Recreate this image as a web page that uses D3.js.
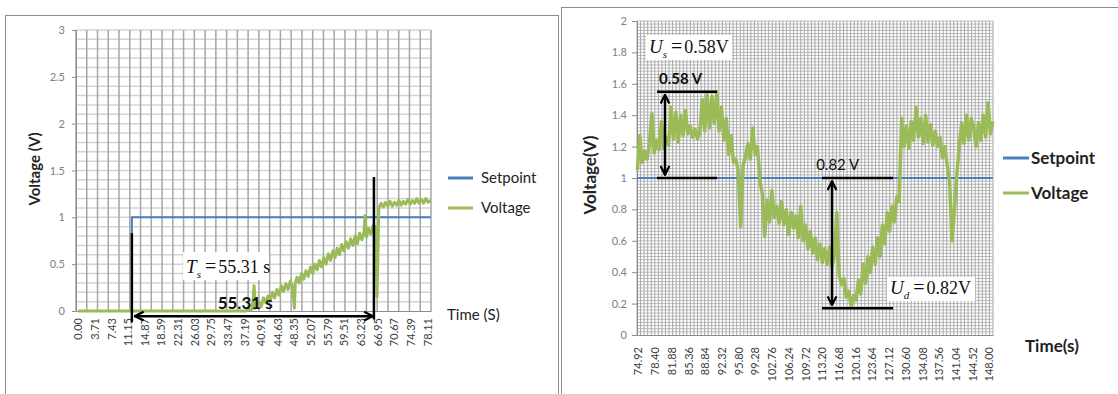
<!DOCTYPE html>
<html>
<head>
<meta charset="utf-8">
<script src="https://cdn.jsdelivr.net/npm/d3@7"></script>
<style>
  body { margin: 0; background: #fff; }
  svg { display: block; font-family: Lato, "Open Sans", sans-serif; }
</style>
</head>
<body>
<svg id="chart" width="1118" height="394"></svg>
<script>
// ---------- left chart data ----------
const leftXLabels = ["0.00","3.71","7.43","11.15","14.87","18.59","22.31","26.03","29.75","33.47","37.19",
  "40.91","44.63","48.35","52.07","55.79","59.51","63.23","66.95","70.67","74.39","78.11"];
const leftYTicks = [0, 0.5, 1, 1.5, 2, 2.5, 3];
const leftSetpoint = [[0, 0], [12.05, 0], [12.05, 1], [78.9, 1]];
// [time (s), voltage (V)]
const leftVoltage = [
  [0,0],[37.5,0],[38,0.01],[38.5,0.02],[39,0.02],[39.4,0.27],[39.7,0.03],[40,0.06],[40.5,0.10],[41,0.05],
  [41.5,0.14],[42,0.09],[42.5,0.16],[43,0.11],[43.5,0.20],[44,0.14],[44.5,0.23],[45,0.17],[45.5,0.27],[46,0.21],
  [46.5,0.29],[47,0.23],[47.5,0.32],[48,0.26],[48.4,0.03],[48.6,0.30],[49,0.36],[49.5,0.30],[50,0.40],[50.5,0.34],
  [51,0.43],[51.5,0.37],[52,0.47],[52.5,0.40],[53,0.50],[53.5,0.44],[54,0.54],[54.5,0.47],[55,0.57],[55.5,0.50],
  [56,0.61],[56.5,0.54],[57,0.64],[57.5,0.57],[58,0.67],[58.5,0.60],[59,0.71],[59.5,0.64],[60,0.74],[60.5,0.67],
  [61,0.77],[61.5,0.70],[62,0.80],[62.5,0.72],[63,0.83],[63.5,0.76],[64,0.85],[64.2,1.02],[64.5,0.79],[65,0.88],
  [65.5,0.82],[66,0.91],[66.6,0.90],[66.9,0.15],[67.3,1.10],[67.8,1.15],[68.3,1.11],[68.8,1.16],[69.3,1.12],[69.8,1.17],
  [70.3,1.12],[70.8,1.16],[71.3,1.13],[71.8,1.18],[72.3,1.13],[72.8,1.17],[73.3,1.14],[73.8,1.19],[74.3,1.14],[74.8,1.18],
  [75.3,1.15],[75.8,1.20],[76.3,1.15],[76.8,1.19],[77.3,1.15],[77.8,1.20],[78.3,1.16],[78.9,1.18]
];

// ---------- right chart data ----------
const rightXLabels = ["74.92","78.40","81.88","85.36","88.84","92.32","95.80","99.28","102.76","106.24","109.72",
  "113.20","116.68","120.16","123.64","127.12","130.60","134.08","137.56","141.04","144.52","148.00"];
const rightYTicks = [0, 0.2, 0.4, 0.6, 0.8, 1, 1.2, 1.4, 1.6, 1.8, 2];
const rightSetpoint = [[74.8, 1], [148.8, 1]];
// sampled every 0.5 s starting at 74.8 s
const rightT0 = 74.8, rightDt = 0.5;
const rightVoltage = [
  1.05,1.27,1.10,1.17,1.12,1.22,1.41,1.16,1.24,1.18,
  1.36,1.19,1.26,1.21,1.45,1.25,1.42,1.23,1.40,1.27,
  1.43,1.28,1.33,1.26,1.31,1.25,1.29,1.50,1.30,1.53,
  1.32,1.52,1.35,1.55,1.30,1.45,1.24,1.38,1.15,1.27,
  1.10,1.12,1.04,0.69,1.08,1.14,1.22,1.12,1.32,1.15,
  1.20,0.98,0.90,0.63,0.86,0.72,0.92,0.75,0.82,0.71,
  0.85,0.70,0.80,0.64,0.78,0.68,0.76,0.62,0.82,0.60,
  0.70,0.55,0.66,0.52,0.62,0.48,0.58,0.46,0.55,0.45,
  0.56,0.44,0.50,0.78,0.38,0.32,0.36,0.24,0.28,0.18,
  0.25,0.22,0.35,0.26,0.45,0.33,0.50,0.40,0.56,0.45,
  0.62,0.50,0.70,0.58,0.78,0.66,0.82,0.72,0.88,0.85,
  1.38,1.20,1.33,1.19,1.36,1.24,1.45,1.26,1.38,1.22,
  1.40,1.23,1.34,1.21,1.30,1.20,1.26,1.13,1.20,1.08,
  0.98,0.60,0.80,1.02,1.20,1.35,1.22,1.40,1.24,1.38,
  1.32,1.20,1.35,1.24,1.40,1.26,1.48,1.28,1.36
];

const blue = "#4a7ebb", green = "#9bbb59";
const svg = d3.select("#chart");

// arrowhead
svg.append("defs").append("marker")
  .attr("id", "arr").attr("viewBox", "0 0 10 10")
  .attr("refX", 9).attr("refY", 5)
  .attr("markerWidth", 11).attr("markerHeight", 11)
  .attr("markerUnits", "userSpaceOnUse")
  .attr("orient", "auto-start-reverse")
  .append("path").attr("d", "M1,1 L9,5 L1,9")
  .attr("fill", "none").attr("stroke", "#000").attr("stroke-width", 2);

// panel frames
svg.append("rect").attr("x", 5.5).attr("y", 15.5).attr("width", 553).attr("height", 400)
  .attr("fill", "#fff").attr("stroke", "#8c8c8c");
svg.append("rect").attr("x", 561.5).attr("y", 7.5).attr("width", 580).attr("height", 400)
  .attr("fill", "#fff").attr("stroke", "#8c8c8c");

function panel(o) {
  const g = svg.append("g");
  const [x0, x1] = o.x.range();
  const [yb, yt] = o.y.range();

  // grid
  g.append("g").selectAll("line").data(o.hGrid).join("line")
    .attr("x1", x0).attr("x2", x1)
    .attr("y1", d => o.y(d)).attr("y2", d => o.y(d))
    .attr("stroke", o.hColor).attr("stroke-width", o.gridW);
  const vx = d3.range(o.vCount + 1).map(i => x0 + i * (x1 - x0) / o.vCount);
  g.append("g").selectAll("line").data(vx).join("line")
    .attr("x1", d => d).attr("x2", d => d).attr("y1", yb).attr("y2", yt)
    .attr("stroke", o.vColor).attr("stroke-width", o.gridW);

  // axes
  const ya = g.append("g").attr("transform", `translate(${x0},0)`)
    .call(d3.axisLeft(o.y).tickValues(o.yTicks).tickSize(o.tickLen).tickSizeOuter(0)
      .tickPadding(o.yPad).tickFormat(d => String(+d.toFixed(1))));
  ya.select(".domain").attr("stroke", "#8c8c8c");
  ya.selectAll(".tick line").attr("stroke", "#8c8c8c");
  ya.selectAll("text").attr("fill", "#808080").style("font-size", "11px").style("font-family", "Lato, sans-serif");

  const xa = g.append("g").attr("transform", `translate(0,${yb})`)
    .call(d3.axisBottom(o.x).tickValues(o.xLabels.map(Number)).tickSize(0).tickSizeOuter(0)
      .tickFormat((d, i) => o.xLabels[i]));
  xa.select(".domain").attr("stroke", "#8c8c8c");
  xa.selectAll("text")
    .attr("transform", "rotate(-90)")
    .attr("x", -o.xPad).attr("y", 0).attr("dy", "0.35em")
    .attr("text-anchor", "end")
    .attr("fill", "#404040").style("font-size", "11px").style("font-family", "Lato, sans-serif");

  // series
  const line = d3.line().x(d => o.x(d[0])).y(d => o.y(d[1]));
  g.append("path").datum(o.setpoint).attr("d", line)
    .attr("fill", "none").attr("stroke", blue).attr("stroke-width", 2);
  g.append("path").datum(o.voltage).attr("d", line)
    .attr("fill", "none").attr("stroke", green).attr("stroke-width", o.lineW)
    .attr("stroke-linejoin", "round");
  return g;
}

// ---------- left chart ----------
const xL = d3.scaleLinear().domain([-0.45, 78.97]).range([76, 431]);
const yL = d3.scaleLinear().domain([0, 3]).range([311, 30]);
const gl = panel({
  x: xL, y: yL, xLabels: leftXLabels, yTicks: leftYTicks,
  hGrid: d3.range(1, 31).map(i => i / 10), vCount: 33,
  hColor: "#d4d4d4", vColor: "#a6a6a6", gridW: 1.5,
  tickLen: 4, yPad: 7, xPad: 7, lineW: 3,
  setpoint: leftSetpoint, voltage: leftVoltage
});

const blk = sel => sel.attr("stroke", "#000").attr("stroke-width", 2.5);
blk(gl.append("line").attr("x1", xL(12.05)).attr("x2", xL(12.05)).attr("y1", yL(0.83)).attr("y2", yL(-0.12)));
blk(gl.append("line").attr("x1", xL(66.2)).attr("x2", xL(66.2)).attr("y1", yL(1.43)).attr("y2", yL(-0.09)));
blk(gl.append("line").attr("x1", xL(12.05) + 3).attr("x2", xL(66.2) - 1).attr("y1", yL(-0.055)).attr("y2", yL(-0.055)))
  .attr("marker-start", "url(#arr)").attr("marker-end", "url(#arr)");
gl.append("text").attr("x", xL(37.4)).attr("y", yL(0.02)).attr("text-anchor", "middle")
  .style("font-size", "17px").style("font-weight", "bold").attr("fill", "#111").text("55.31 s");

gl.append("rect").attr("x", xL(23.5)).attr("y", yL(0.63)).attr("width", xL(42.7) - xL(23.5))
  .attr("height", yL(0.33) - yL(0.63)).attr("fill", "#fff");
function eqText(g, x, y, main, sub, rest) {
  const t = g.append("text").attr("x", x).attr("y", y)
    .style("font-family", "'Liberation Serif', 'DejaVu Serif', serif").attr("fill", "#111");
  t.append("tspan").style("font-style", "italic").style("font-size", "19px").text(main);
  t.append("tspan").style("font-style", "italic").style("font-size", "11px").attr("dy", 5).text(sub);
  t.append("tspan").style("font-size", "20px").attr("dy", -5).attr("dx", 4).text("=");
  t.append("tspan").style("font-size", "18px").attr("dx", 2).text(rest);
}
eqText(gl, xL(23.5) + 3, yL(0.41), "T", "s", "55.31 s");

// legend left
[["Setpoint", blue, 178], ["Voltage", green, 208]].forEach(([name, c, y]) => {
  gl.append("line").attr("x1", 448).attr("x2", 473).attr("y1", y).attr("y2", y)
    .attr("stroke", c).attr("stroke-width", 3);
  gl.append("text").attr("x", 481).attr("y", y).attr("dy", "0.35em")
    .style("font-size", "15px").attr("fill", "#222").text(name);
});
gl.append("text").attr("transform", "translate(40,169) rotate(-90)").attr("text-anchor", "middle")
  .style("font-size", "15px").style("font-weight", "bold").attr("fill", "#222").text("Voltage (V)");
gl.append("text").attr("x", 447).attr("y", 315).attr("dy", "0.35em")
  .style("font-size", "15px").attr("fill", "#222").text("Time (S)");

// ---------- right chart ----------
const xR = d3.scaleLinear().domain([74.71, 148.83]).range([637, 993]);
const yR = d3.scaleLinear().domain([0, 2]).range([335, 21]);
const gr = panel({
  x: xR, y: yR, xLabels: rightXLabels, yTicks: rightYTicks,
  hGrid: d3.range(1, 101).map(i => i / 50), vCount: 100,
  hColor: "#bcbcbc", vColor: "#a8a8a8", gridW: 1,
  tickLen: 5, yPad: 5, xPad: 12, lineW: 3.5,
  setpoint: rightSetpoint, voltage: rightVoltage.map((v, i) => [rightT0 + i * rightDt, v])
});

blk(gr.append("line").attr("x1", xR(78.88)).attr("x2", xR(91.37)).attr("y1", yR(1.55)).attr("y2", yR(1.55)));
blk(gr.append("line").attr("x1", xR(78.88)).attr("x2", xR(91.37)).attr("y1", yR(1)).attr("y2", yR(1)));
blk(gr.append("line").attr("x1", xR(80.54)).attr("x2", xR(80.54)).attr("y1", yR(1.53)).attr("y2", yR(1.02)))
  .attr("marker-start", "url(#arr)").attr("marker-end", "url(#arr)");
blk(gr.append("line").attr("x1", xR(113.23)).attr("x2", xR(128.01)).attr("y1", yR(1)).attr("y2", yR(1)));
blk(gr.append("line").attr("x1", xR(113.23)).attr("x2", xR(128.01)).attr("y1", yR(0.17)).attr("y2", yR(0.17)));
blk(gr.append("line").attr("x1", xR(115.31)).attr("x2", xR(115.31)).attr("y1", yR(0.98)).attr("y2", yR(0.19)))
  .attr("marker-start", "url(#arr)").attr("marker-end", "url(#arr)");

gr.append("text").attr("x", xR(83.8)).attr("y", 84).attr("text-anchor", "middle")
  .style("font-size", "15px").style("font-weight", "bold").attr("fill", "#111").text("0.58 V");
gr.append("text").attr("x", xR(116.5)).attr("y", 170).attr("text-anchor", "middle")
  .style("font-size", "15px").attr("fill", "#111").text("0.82 V");

gr.append("rect").attr("x", 646).attr("y", 35).attr("width", 86).attr("height", 25).attr("fill", "#fff");
eqText(gr, 649, 53, "U", "s", "0.58V");
gr.append("rect").attr("x", 887).attr("y", 277).attr("width", 88).attr("height", 24).attr("fill", "#fff");
eqText(gr, 890, 294, "U", "d", "0.82V");

[["Setpoint", blue, 158], ["Voltage", green, 193]].forEach(([name, c, y]) => {
  gr.append("line").attr("x1", 1003).attr("x2", 1029).attr("y1", y).attr("y2", y)
    .attr("stroke", c).attr("stroke-width", 3);
  gr.append("text").attr("x", 1031).attr("y", y).attr("dy", "0.35em")
    .style("font-size", "17px").style("font-weight", "bold").attr("fill", "#222").text(name);
});
gr.append("text").attr("transform", "translate(596,175) rotate(-90)").attr("text-anchor", "middle")
  .style("font-size", "17px").style("font-weight", "bold").attr("fill", "#222").text("Voltage(V)");
gr.append("text").attr("x", 1025).attr("y", 346).attr("dy", "0.35em")
  .style("font-size", "17px").style("font-weight", "bold").attr("fill", "#222").text("Time(s)");
</script>
</body>
</html>
